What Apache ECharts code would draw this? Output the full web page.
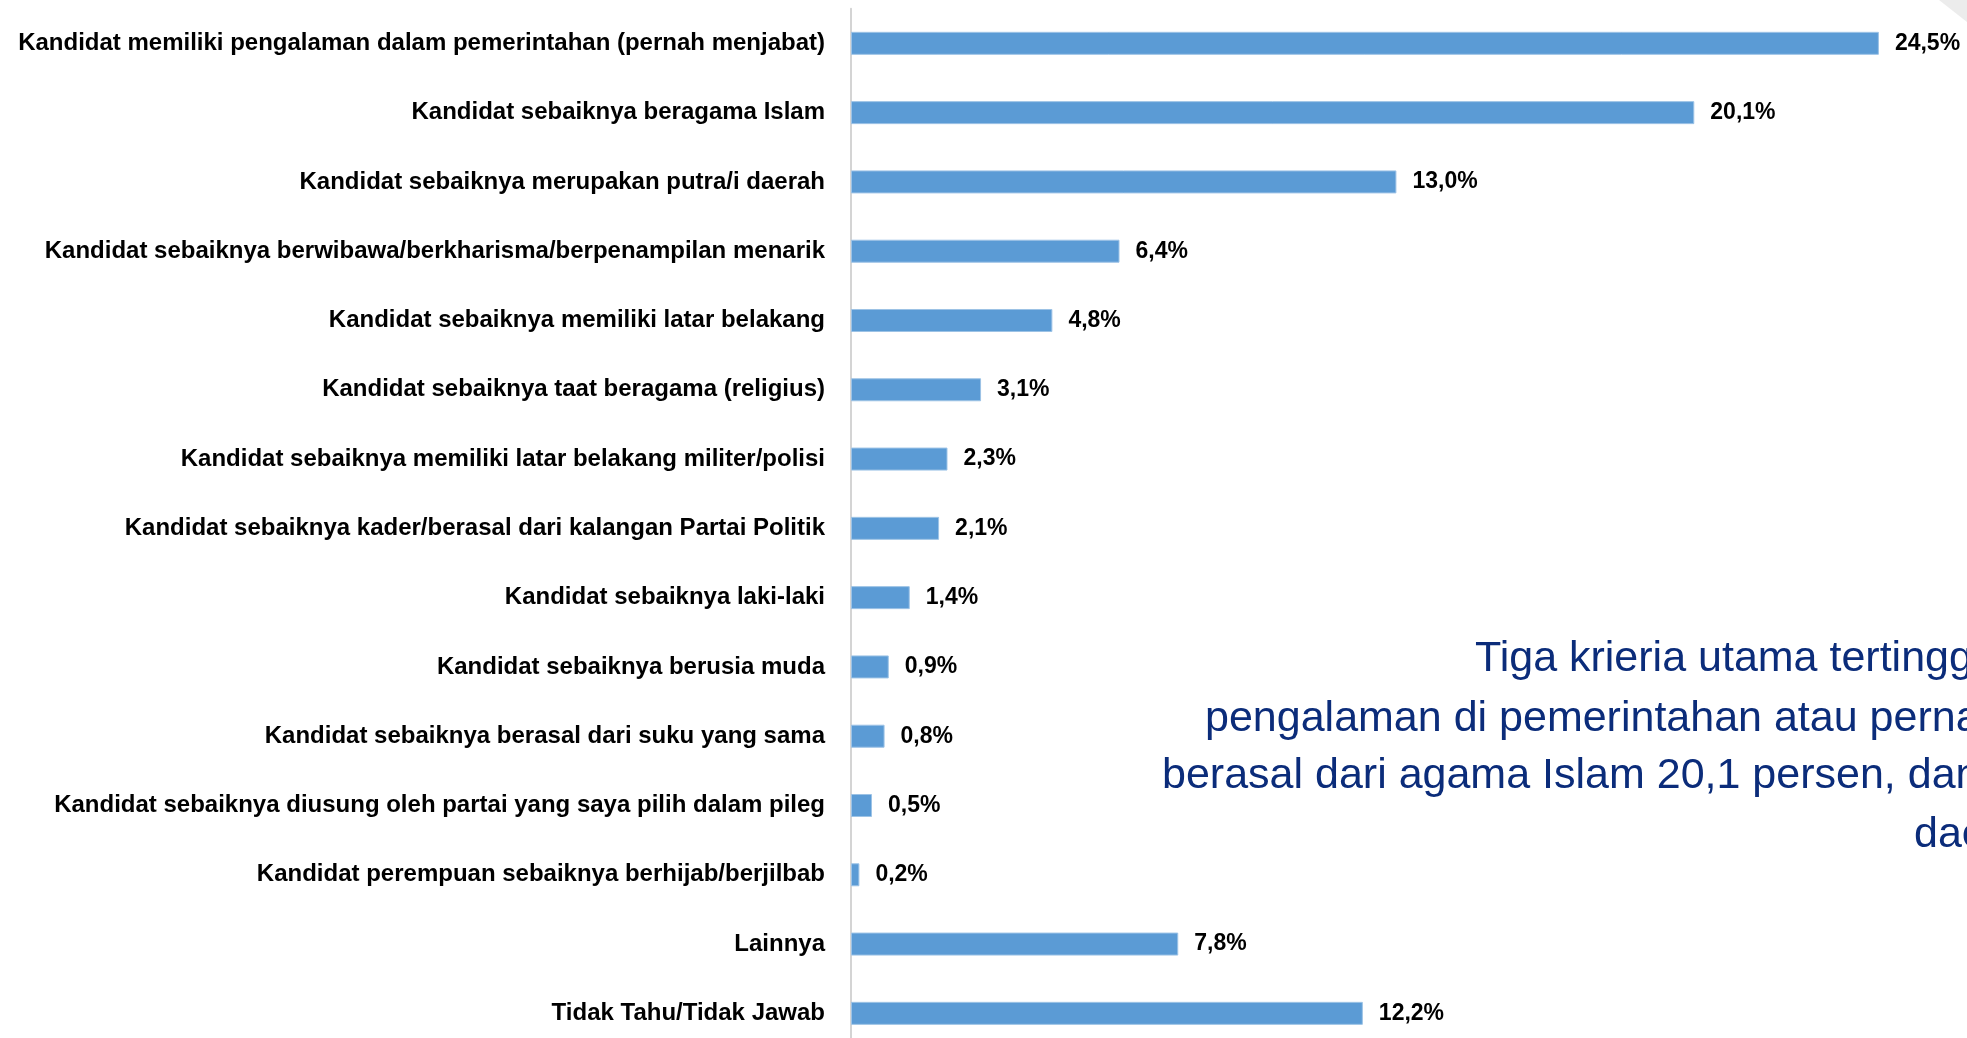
<!DOCTYPE html>
<html>
<head>
<meta charset="utf-8">
<script src="https://cdn.jsdelivr.net/npm/echarts@6/dist/echarts.min.js"></script>
<style>
	html, body { margin: 0; padding: 0; background: #fff; }
	#chart { width: 1967px; height: 1038px; }
</style>
</head>
<body>
<div id="chart"></div>
<script>
// kriteria kandidat (urutan dari atas)
var categories = [
	'Kandidat memiliki pengalaman dalam pemerintahan (pernah menjabat)',
	'Kandidat sebaiknya beragama Islam',
	'Kandidat sebaiknya merupakan putra/i daerah',
	'Kandidat sebaiknya berwibawa/berkharisma/berpenampilan menarik',
	'Kandidat sebaiknya memiliki latar belakang',
	'Kandidat sebaiknya taat beragama (religius)',
	'Kandidat sebaiknya memiliki latar belakang militer/polisi',
	'Kandidat sebaiknya kader/berasal dari kalangan Partai Politik',
	'Kandidat sebaiknya laki-laki',
	'Kandidat sebaiknya berusia muda',
	'Kandidat sebaiknya berasal dari suku yang sama',
	'Kandidat sebaiknya diusung oleh partai yang saya pilih dalam pileg',
	'Kandidat perempuan sebaiknya berhijab/berjilbab',
	'Lainnya',
	'Tidak Tahu/Tidak Jawab'
];
var values = [24.5, 20.1, 13.0, 6.4, 4.8, 3.1, 2.3, 2.1, 1.4, 0.9, 0.8, 0.5, 0.2, 7.8, 12.2];

// teks keterangan (terpotong di tepi kanan)
var noteLines = [
	'Tiga krieria utama tertinggi',
	'pengalaman di pemerintahan atau pernah',
	'berasal dari agama Islam 20,1 persen, dan kandidat',
	'daerah'
];
var noteX = [1475, 1205, 1162, 1914];
var noteY = [656, 716, 773, 832];

var labelFont = '"Liberation Sans", Arial, sans-serif';

var noteGraphics = [];
for (var i = 0; i < noteLines.length; i++) {
	noteGraphics.push({
		type: 'text',
		left: noteX[i],
		top: noteY[i] - 18,
		style: {
			text: noteLines[i],
			fill: '#0b2c7a',
			font: '43px ' + labelFont
		}
	});
}
// segitiga abu-abu di pojok kanan atas
noteGraphics.push({
	type: 'polygon',
	shape: { points: [[1939, 0], [1967, 0], [1967, 22]] },
	style: { fill: '#ececec' }
});

var chart = echarts.init(document.getElementById('chart'));
chart.setOption({
	animation: false,
	grid: {
		left: 851,
		right: 0,
		top: 8.7,
		height: 1039.3,
		containLabel: false,
		outerBoundsMode: 'none'
	},
	xAxis: {
		type: 'value',
		min: 0,
		max: 26.6,
		show: false
	},
	yAxis: {
		type: 'category',
		inverse: true,
		data: categories,
		axisLine: { show: true, lineStyle: { color: '#d4d4d4', width: 2 } },
		axisTick: { show: false },
		axisLabel: {
			margin: 26,
			color: '#000',
			fontSize: 24,
			fontWeight: 'bold',
			fontFamily: labelFont
		}
	},
	series: [{
		type: 'bar',
		data: values,
		barWidth: 23,
		itemStyle: {
			color: '#5b9bd5',
			borderColor: '#9dc3e6',
			borderWidth: 1
		},
		label: {
			show: true,
			position: 'right',
			distance: 16,
			color: '#000',
			fontSize: 23,
			fontWeight: 'bold',
			fontFamily: labelFont,
			formatter: function(p) {
				return p.value.toFixed(1).replace('.', ',') + '%';
			}
		}
	}],
	graphic: noteGraphics
});
</script>
</body>
</html>
